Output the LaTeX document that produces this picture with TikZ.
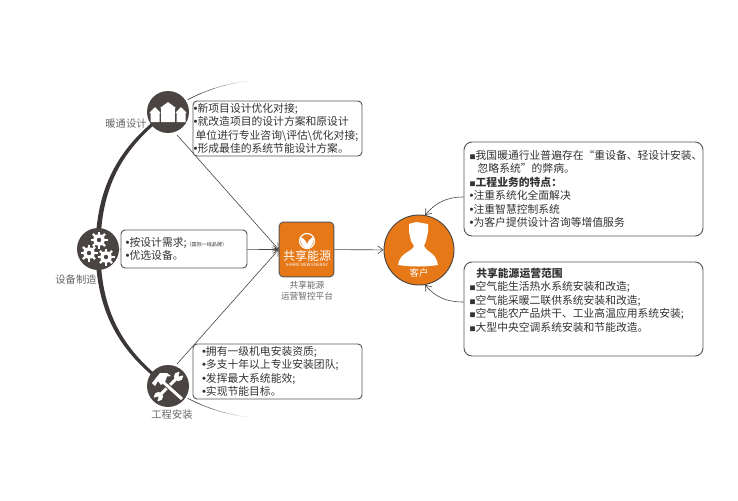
\documentclass[tikz,border=0pt]{standalone}
\usepackage{fontspec}
\setmainfont{Noto Sans CJK SC}
\newfontfamily\dotfont{Liberation Sans}
\usetikzlibrary{calc,arrows.meta}
\definecolor{darkcirc}{HTML}{4A4543}
\definecolor{logoorange}{HTML}{E67817}
\definecolor{boxline}{HTML}{555555}
\definecolor{boxtext}{HTML}{333333}
\definecolor{labeltext}{HTML}{666666}
\newcommand{\dotb}{{\dotfont\fontsize{8.5}{7}\selectfont•}}
\newcommand{\sqb}{{\fontsize{4.5}{4.5}\selectfont■}}
\tikzset{
    iconcirc/.style={shape=circle,fill=darkcirc,minimum size=31.5pt,inner sep=0pt},
    infobox/.style={shape=rectangle,draw=boxline,fill=white,line width=0.7pt,rounded corners=3pt,
        align=left,text=boxtext,font=\fontsize{8.1}{10.15}\selectfont,inner ysep=0pt},
    sidelabel/.style={text=labeltext,font=\fontsize{7.7}{10}\selectfont,inner sep=0pt,align=center},
    flow/.style={draw=darkcirc,line width=0.45pt,-{Straight Barb[length=4pt,width=6pt]}},
    arcfill/.style={fill=darkcirc!80!black}
}
\begin{document}
\begin{tikzpicture}[x=0.75pt,y=-0.75pt]
    \useasboundingbox (0,0) rectangle (738,500);
    % thin ends of the big arc
    \foreach \a/\b/\g in {118/113/75,113/108/55,108/104/35,104/100/20,100/96/8} {
        \draw[black!\g,line width=0.5pt,domain=\a:\b,samples=5] plot ({267+169*cos(\x)},{249-169*sin(\x)});
        \draw[black!\g,line width=0.5pt,domain=\a:\b,samples=5] plot ({267+169*cos(\x)},{249+169*sin(\x)});
    }
    \coordinate (heatL) at (167,111);
    \coordinate (heatR) at (169,113);
    \coordinate (gearL) at (95.5,249);
    \coordinate (gearR) at (100.5,249);
    \coordinate (toolL) at (167,387);
    \coordinate (toolR) at (169,385);
    \fill[arcfill] (heatL) to[bend right=27] (gearL) -- (gearR) to[bend left=27] (heatR) -- cycle;
    \fill[arcfill] (toolL) to[bend left=27] (gearL) -- (gearR) to[bend right=27] (toolR) -- cycle;

    \node[iconcirc] (heat) at (168,112) {};
    \node[iconcirc] (gear) at (98,249) {};
    \node[iconcirc] (tool) at (168,386) {};
    \node[shape=rectangle,draw=boxline,fill=logoorange,line width=0.7pt,rounded corners=3pt,minimum size=41pt,inner sep=0pt] (logo) at (306.5,249.5) {};
    \node[shape=circle,draw=darkcirc,fill=logoorange,line width=0.7pt,minimum size=52.5pt,inner sep=0pt] (client) at (419,250) {};

    % houses
    \foreach \cx/\top/\w in {155/107/4.5,168/102/6.8,181/107/4.5} {
        \fill[white] (\cx-\w,122) -- (\cx-\w,\top+6) -- (\cx-\w-1.2,\top+6) -- (\cx,\top) -- (\cx+\w+1.2,\top+6) -- (\cx+\w,\top+6) -- (\cx+\w,122) -- cycle;
    }
    % gears
    \foreach \cx/\cy in {99/240,89/253,106/257} {
        \begin{scope}[shift={(\cx,\cy)}]
            \fill[white] (0,0) circle (5.8);
            \foreach \t in {0,45,...,315} \draw[white,line width=1.7pt] (\t:5) -- (\t:8.5);
            \fill[darkcirc] (0,0) circle (2.2);
        \end{scope}
    }
    % hammer and wrench
    \begin{scope}[shift={(168,386)}]
        \draw[white,line width=2.2pt] (10,-9) -- (-9,10);
        \fill[white] (10.5,-9.5) circle (4.6);
        \fill[white] (-9.5,10.5) circle (4.6);
        \fill[darkcirc] (10.5,-9.5) -- (16,-11) -- (12,-15.5) -- cycle;
        \fill[darkcirc] (-9.5,10.5) -- (-15,12) -- (-11,16.5) -- cycle;
        \draw[darkcirc,line width=3.6pt] (-6,-5) -- (14,13);
        \draw[white,line width=2.2pt] (-6,-5) -- (14,13);
        \fill[white] (-16,-3) -- (-8,-13) -- (-1,-13) -- (3,-10) -- (-1,-9.5) -- (-3,-4) -- (-7,-1) -- (-10,-5) -- (-13,0) -- cycle;
    \end{scope}
    % client figure
    \fill[white] (409,224) -- (416,222) -- (428,224) -- (428,232) -- (426,241) -- (424,246)
        .. controls (426,252) and (436,252) .. (438,265)
        .. controls (425,267) and (412,267) .. (398,265)
        .. controls (400,252) and (412,252) .. (414,246)
        -- (411,241) -- (409,232) -- cycle;
    \node[text=white,font=\fontsize{7}{8}\selectfont,inner sep=0pt] (clienttext) at (419,273) {客户};
    % logo mark
    \draw[white,line width=0.9pt] (307,241) circle (7.5);
    \fill[white] (300,237) .. controls (304,238) and (307,242) .. (307,245) .. controls (307,242) and (310,238) .. (314,237)
        .. controls (314,243) and (311,248) .. (307,248.5) .. controls (303,248) and (300,243) .. (300,237) -- cycle;
    \node[text=white,font=\fontsize{9}{10}\selectfont,inner sep=0pt] (logoname) at (307,256) {共享能源};
    \node[text=white,font=\fontsize{3.3}{4}\selectfont,inner sep=0pt] (logoen) at (307,265) {SHARE NEW ENERGY};

    \coordinate (heatout) at (177,135);
    \coordinate (toolout) at (177,364);
    \draw[flow] (heatout) -- (logo.west);
    \draw[flow] (gear) -- (logo.west);
    \draw[flow] (toolout) -- (logo.west);
    \draw[flow] (logo) -- (client);

    \node[infobox,minimum width=126.75pt,minimum height=41.25pt,text width=125.75pt,inner xsep=0.5pt] (box1) at (277.5,128.5)
        {\dotb 新项目设计优化对接;\\\dotb 就改造项目的设计方案和原设计\\ \hspace{1.5pt}单位进行专业咨询\textbackslash 评估\textbackslash 优化对接;\\\dotb 形成最佳的系统节能设计方案。};
    \node[infobox,minimum width=94.5pt,minimum height=28.5pt,text width=87.5pt,inner xsep=3.5pt] (box2) at (184,249)
        {\dotb 按设计需求;{\fontsize{3.8}{4}\selectfont（国际一线品牌）}\\\dotb 优选设备。};
    \node[infobox,minimum width=126.75pt,minimum height=41.25pt,text width=113.25pt,inner xsep=6.75pt] (box3) at (277.5,371.5)
        {\dotb 拥有一级机电安装资质;\\\dotb 多支十年以上专业安装团队;\\\dotb 发挥最大系统能效;\\\dotb 实现节能目标。};
    \node[infobox,rounded corners=6pt,minimum width=179.25pt,minimum height=70.5pt,text width=170.75pt,inner xsep=4.25pt] (box4) at (583.5,189)
        {\sqb 我国暖通行业普遍存在“重设备、轻设计安装、\\\hspace{6pt}忽略系统”的弊病。\\\sqb\textbf{工程业务的特点：}\\\dotb 注重系统化全面解决\\\dotb 注重智慧控制系统\\\dotb 为客户提供设计咨询等增值服务};
    \node[infobox,rounded corners=6pt,minimum width=179.25pt,minimum height=70.5pt,text width=170.75pt,inner xsep=4.25pt] (box5) at (583.5,309)
        {\hspace{5pt}\textbf{共享能源运营范围}\\\sqb 空气能生活热水系统安装和改造;\\\sqb 空气能采暖二联供系统安装和改造;\\\sqb 空气能农产品烘干、工业高温应用系统安装;\\\sqb 大型中央空调系统安装和节能改造。\\[4pt]\mbox{}};

    \draw[flow] ([yshift=-6pt]box4.west) to[out=180,in=50] (client.80);
    \draw[flow] ([yshift=5.25pt]box5.west) to[out=180,in=-50] (client.-80);

    \node[sidelabel] (heatlabel) at (126,124) {暖通设计};
    \node[sidelabel] (gearlabel) at (76,280) {设备制造};
    \node[sidelabel] (toollabel) at (172,415) {工程安装};
    \node[sidelabel,font=\fontsize{6.5}{8.3}\selectfont] (logolabel) at (307,290.5) {共享能源\\运营智控平台};
\end{tikzpicture}
\end{document}
